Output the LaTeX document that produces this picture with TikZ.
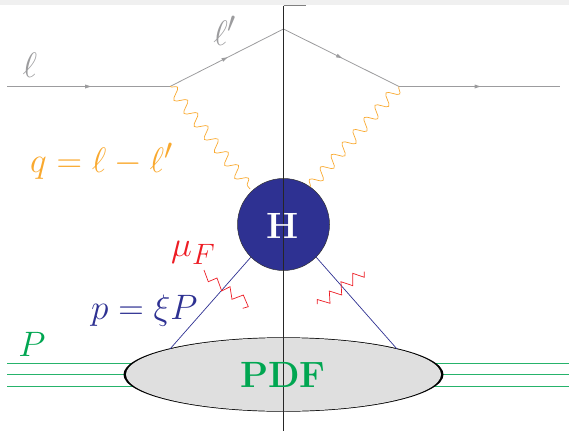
\documentclass[tikz,border=0pt]{standalone}
\usepackage{amsmath}
\usepackage{xcolor}
\usetikzlibrary{decorations.pathmorphing,decorations.markings,shapes.geometric}
\definecolor{lep}{HTML}{9C9C9E}
\definecolor{pho}{HTML}{F9A92F}
\definecolor{hblue}{HTML}{2E3192}
\definecolor{grn}{HTML}{00A651}
\definecolor{rd}{HTML}{ED1C24}
\newcommand{\biglab}[1]{\scalebox{1.42}{\Huge$#1$}}
\newcommand{\bigbf}[1]{\scalebox{1.47}{\Huge\bfseries #1}}
\tikzset{
 lepline/.style={lep,line width=0.8pt},
 midarrow/.style={postaction={decorate},decoration={markings,mark=at position #1 with {\fill[lep] (-5pt,-2pt) -- (1pt,0pt) -- (-5pt,2pt) -- cycle;}}},
 photon/.style={pho,line width=0.7pt,decorate,decoration={snake,segment length=16.5pt,amplitude=5.5pt}},
 zig/.style={rd,line width=0.7pt},
 quark/.style={hblue,line width=0.7pt},
 beam/.style={grn!85!white,line width=0.9pt},
 lab/.style={inner sep=0pt},
}
\begin{document}
\begin{tikzpicture}[x=1pt,y=-1pt]
\useasboundingbox (0,0) rectangle (569,431);
\fill[gray!12] (0,0) rectangle (569,4.5);
\coordinate (a) at (7,86.5);
\coordinate (b) at (170,86.5);
\coordinate (c) at (283.5,29);
\coordinate (d) at (399,86.5);
\coordinate (e) at (560,86.5);
\coordinate (vt) at (283.5,5.5);
\coordinate (vb) at (283.5,431);
\coordinate (tk) at (306,5.5);
\coordinate (ql) at (170,349);
\coordinate (qr) at (397,349);
% beams
\foreach \yy/\nn in {363/1,374.5/2,386/3}{
 \coordinate (bl\nn) at (7,\yy);
 \coordinate (br\nn) at (569,\yy);
 \draw[beam] (bl\nn) -- (br\nn);
}
% lepton
\draw[lepline,midarrow=0.51] (a) -- (b);
\draw[lepline,midarrow=0.5] (b) -- (c);
\draw[lepline,midarrow=0.5] (c) -- (d);
\draw[lepline,midarrow=0.5] (d) -- (e);
% blobs
\node[circle,draw=black!80,line width=0.5pt,fill=hblue,minimum size=92pt,inner sep=0pt] (H) at (283.5,224.5) {};
\node[ellipse,fill=black,minimum width=320pt,minimum height=74.4pt,inner sep=0pt] (Pout) at (283.5,374.5) {};
\node[ellipse,fill=gray!25,minimum width=315pt,minimum height=73pt,inner sep=0pt] (Pin) at (283.5,374.5) {};
% photons
\draw[photon] (b) -- (250,189);
\draw[photon] (d) -- (310,187);
% quarks
\draw[quark] (H.225) -- (ql);
\draw[quark] (H.-45) -- (qr);
% zigzags
\draw[zig] (204,270) -- (208.3,281.7) -- (217,278) -- (221.7,291) -- (230,286.7) -- (232,299.3) -- (243.3,295) -- (248.3,306.7) -- (242.7,308.3);
\draw[zig] (317.3,304) -- (317.3,299.5) -- (330,303.3) -- (329.3,291) -- (341.7,295) -- (341,281.7) -- (352.7,285.7) -- (352.7,273.3) -- (364.3,277.3) -- (364.3,271.7);
% vertical
\draw[black!85,line width=0.7pt] (vt) -- (vb);
\draw[gray,line width=0.9pt] (vt) -- (tk);
% labels
\node[lab,lep] (l1) at (30,65) {\biglab{\ell}};
\node[lab,lep] (l2) at (225,31) {\biglab{\ell'}};
\node[lab,pho,anchor=west] (q) at (30,161) {\biglab{q=\ell-\ell'}};
\node[lab,rd,anchor=west] (mu) at (171,253) {\biglab{\mu_F}};
\node[lab,hblue,anchor=west] (pp) at (91,311) {\biglab{p=\xi P}};
\node[lab,grn] (PP) at (32,344) {\biglab{P}};
\node[lab,white] (Ht) at (283,226) {\bigbf{H}};
\node[lab,grn] (Pt) at (283,375) {\bigbf{PDF}};
\end{tikzpicture}
\end{document}
